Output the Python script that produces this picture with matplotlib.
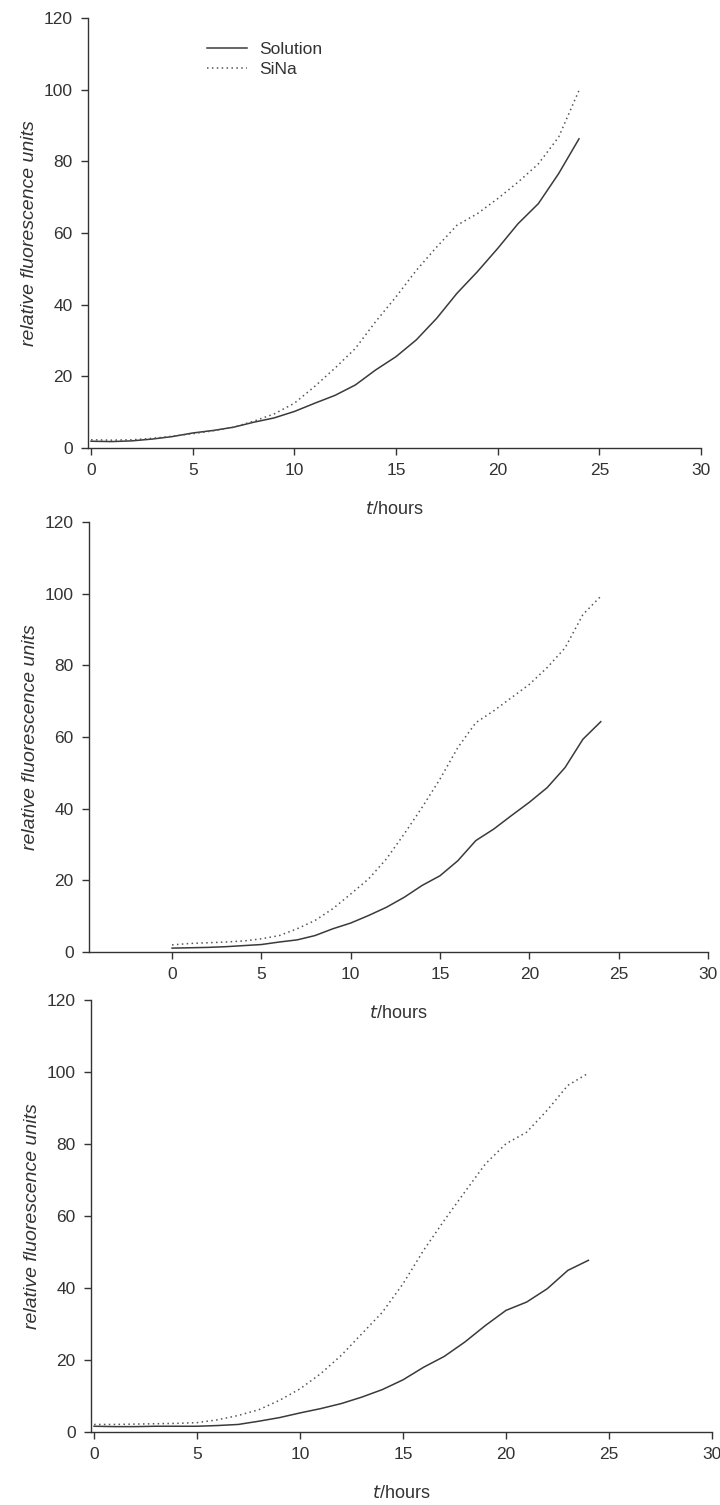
import matplotlib
matplotlib.use('Agg')
import matplotlib.pyplot as plt


hours = list(range(25))

# panel 1
sol_a = [1.9, 1.8, 2.0, 2.5, 3.2, 4.2, 4.9, 5.8, 7.2, 8.4, 10.2, 12.5, 14.7,
         17.6, 21.8, 25.5, 30.2, 36.2, 43.2, 49.2, 55.7, 62.6, 68.2, 76.6, 86.3]
sina_a = [2.3, 2.2, 2.3, 2.7, 3.3, 4.0, 4.8, 5.8, 7.5, 9.5, 12.5, 17.2, 22.3,
          27.8, 35.3, 42.2, 49.6, 56.1, 62.2, 65.4, 69.6, 74.2, 79.3, 86.8, 99.8]

# panel 2
sol_b = [1.1, 1.2, 1.3, 1.5, 1.8, 2.1, 2.8, 3.4, 4.6, 6.5, 8.1, 10.2, 12.5,
         15.3, 18.6, 21.3, 25.5, 31.1, 34.3, 38.1, 41.8, 45.9, 51.5, 59.4, 64.3]
sina_b = [2.0, 2.4, 2.6, 2.8, 3.1, 3.7, 4.6, 6.5, 8.8, 12.1, 16.2, 20.4, 26.0,
          33.0, 40.4, 48.3, 57.1, 64.0, 67.3, 71.0, 74.7, 79.4, 84.9, 94.2, 99.3]

# panel 3
sol_c = [1.6, 1.5, 1.5, 1.6, 1.6, 1.6, 1.8, 2.1, 3.0, 4.0, 5.3, 6.5, 7.9,
         9.7, 11.8, 14.5, 18.0, 21.0, 25.0, 29.6, 33.8, 36.1, 39.8, 44.9, 47.7]
sina_c = [2.1, 2.1, 2.2, 2.3, 2.4, 2.6, 3.4, 4.6, 6.2, 8.8, 12.0, 16.2, 21.3,
          27.3, 33.3, 41.2, 50.5, 58.8, 66.7, 74.5, 80.1, 83.3, 89.4, 96.3, 99.7]

x_ticks = [0, 5, 10, 15, 20, 25, 30]
y_ticks = [0, 20, 40, 60, 80, 100, 120]

tick_font = ['Liberation Sans Narrow', 'Liberation Sans', 'DejaVu Sans']
label_font = ['Liberation Sans', 'DejaVu Sans']
ink = '#333333'

fig = plt.figure(figsize=(7.2, 15.05), dpi=100)

# [left, bottom, width, height] in figure fractions, plus left x limit
boxes = [
    ([0.1222, 0.7023, 0.8514, 0.2857], -0.15),
    ([0.1236, 0.3674, 0.8597, 0.2857], -4.65),
    ([0.1264, 0.0485, 0.8625, 0.2870], -0.15),
]
series = [(sol_a, sina_a), (sol_b, sina_b), (sol_c, sina_c)]

for i, ((box, xmin), (sol, sina)) in enumerate(zip(boxes, series)):
    ax = fig.add_axes(box)
    # transparent background so the x label above stays visible
    ax.patch.set_alpha(0)
    ax.plot(hours, sol, color='#3a3a3a', lw=1.1, ls='-', label='Solution')
    ax.plot(hours, sina, color='#555555', lw=1.1, ls=(0, (1, 2.2)), label='SiNa')

    ax.set_xlim(xmin, 30)
    ax.set_ylim(0, 120)
    ax.set_xticks(x_ticks)
    ax.set_yticks(y_ticks)
    for side in ('top', 'right'):
        ax.spines[side].set_visible(False)
    for side in ('left', 'bottom'):
        ax.spines[side].set_color(ink)
        ax.spines[side].set_linewidth(1.0)
    ax.tick_params(direction='out', length=5, width=1.0, color=ink,
                   labelcolor=ink, labelsize=12.5, pad=6)
    for lab in ax.get_xticklabels() + ax.get_yticklabels():
        lab.set_family(tick_font)

    ax.set_ylabel('relative fluorescence units', fontsize=14, style='italic',
                  family=label_font, color=ink, labelpad=4)
    ax.set_xlabel('$\\it{t}$/hours', fontsize=13, family=tick_font,
                  color=ink, labelpad=16)

    if i == 0:
        leg = ax.legend(loc='upper left', bbox_to_anchor=(0.18, 0.965),
                        frameon=False, handlelength=2.3, handletextpad=0.7,
                        labelspacing=0.3, borderpad=0,
                        prop={'family': tick_font, 'size': 12.5})
        for t in leg.get_texts():
            t.set_color(ink)

fig.savefig('out.png', dpi=100)
